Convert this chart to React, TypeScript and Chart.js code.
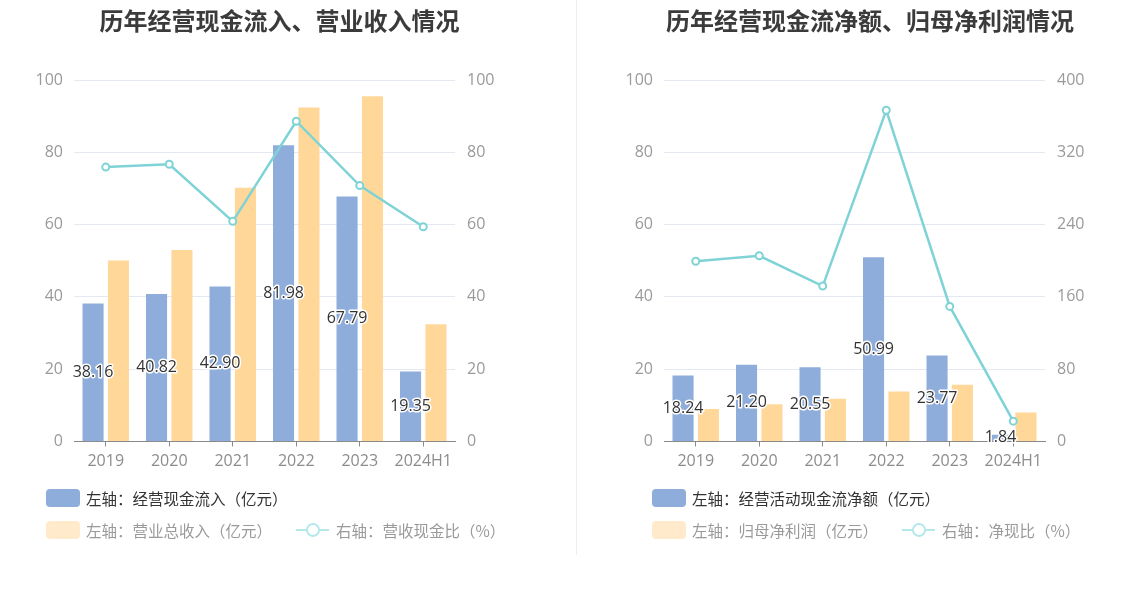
import React, { useEffect, useRef } from 'react';
import { Chart, registerables } from 'chart.js';

Chart.register(...registerables);

// ---- data ----
const years = ['2019', '2020', '2021', '2022', '2023', '2024H1'];
// left chart
const cashInflow = [38.16, 40.82, 42.9, 81.98, 67.79, 19.35];
const totalRevenue = [50.1, 53.0, 70.2, 92.4, 95.5, 32.4];
const cashRevenueRatio = [75.9, 76.7, 60.9, 88.6, 70.8, 59.4];
// right chart
const netOperatingCash = [18.24, 21.2, 20.55, 50.99, 23.77, 1.84];
const netProfit = [9.0, 10.3, 11.8, 13.8, 15.7, 8.0];
const netCashRatio = [199.5, 205.5, 172.0, 366.5, 149.5, 22.5];

const titles = ['历年经营现金流入、营业收入情况', '历年经营现金流净额、归母净利润情况'];
const legend1 = ['左轴：经营现金流入（亿元）', '左轴：营业总收入（亿元）', '右轴：营收现金比（%）'];
const legend2 = ['左轴：经营活动现金流净额（亿元）', '左轴：归母净利润（亿元）', '右轴：净现比（%）'];

const FONT = "'Open Sans', 'Noto Sans CJK SC', sans-serif";
const CJK = "'Noto Sans CJK SC', 'Open Sans', sans-serif";
const BLUE = '#8EADDB';
const YELLOW = '#FFD899';
const LINE = '#7FD3D6';
const GRID = '#E4E8F3';

const barLabelPlugin = {
  id: 'barLabels',
  afterDatasetsDraw(chart: any) {
    const meta = chart.getDatasetMeta(1);
    const data = chart.data.datasets[1].data as number[];
    const ctx = chart.ctx as CanvasRenderingContext2D;
    ctx.save();
    ctx.font = `16px ${FONT}`;
    ctx.textAlign = 'center';
    ctx.textBaseline = 'middle';
    ctx.lineWidth = 3;
    ctx.lineJoin = 'round';
    ctx.strokeStyle = '#fff';
    ctx.fillStyle = '#333';
    meta.data.forEach((el: any, i: number) => {
      const text = data[i].toFixed(2);
      const y = (el.y + el.base) / 2;
      ctx.strokeText(text, el.x, y);
      ctx.fillText(text, el.x, y);
    });
    ctx.restore();
  },
};

type PanelProps = {
  left: number;
  width: number;
  axisLeft: number;
  axisRight: number;
  bars1: number[];
  bars2: number[];
  line: number[];
  y1Max: number;
  y1Step: number;
};

function ChartPanel(p: PanelProps) {
  const ref = useRef<HTMLCanvasElement>(null);
  useEffect(() => {
    const tickFont = { family: FONT, size: 16 };
    const chart = new Chart(ref.current as HTMLCanvasElement, {
      type: 'bar',
      data: {
        labels: years,
        datasets: [
          {
            type: 'line',
            data: p.line,
            yAxisID: 'y1',
            order: 0,
            borderColor: LINE,
            borderWidth: 2.5,
            pointRadius: 3.5,
            pointBorderWidth: 2,
            pointBackgroundColor: '#fff',
            pointBorderColor: LINE,
            tension: 0,
            fill: false,
          } as any,
          {
            type: 'bar',
            data: p.bars1,
            yAxisID: 'y',
            order: 1,
            backgroundColor: BLUE,
            categoryPercentage: 0.8,
            barPercentage: 0.83,
          },
          {
            type: 'bar',
            data: p.bars2,
            yAxisID: 'y',
            order: 1,
            backgroundColor: YELLOW,
            categoryPercentage: 0.8,
            barPercentage: 0.83,
          },
        ],
      },
      options: {
        responsive: false,
        animation: false,
        layout: { padding: { top: 80, bottom: 107.5, left: 0, right: 0 } },
        plugins: { legend: { display: false }, tooltip: { enabled: false }, title: { display: false } },
        scales: {
          x: {
            grid: { offset: false, drawOnChartArea: false, drawTicks: true, tickLength: 5, color: '#8a8a8a' },
            border: { display: true, color: '#8a8a8a', width: 1 },
            ticks: { color: '#8c8c8c', font: tickFont, padding: 5, maxRotation: 0 },
            afterFit: (s: any) => {
              s.height = 40;
            },
          },
          y: {
            position: 'left',
            min: 0,
            max: 100,
            ticks: { stepSize: 20, color: '#9a9a9a', font: tickFont, padding: 11 },
            grid: { color: GRID, drawTicks: false, lineWidth: 1 },
            border: { display: false },
            afterFit: (s: any) => {
              s.width = p.axisLeft;
            },
          },
          y1: {
            position: 'right',
            min: 0,
            max: p.y1Max,
            ticks: { stepSize: p.y1Step, color: '#9a9a9a', font: tickFont, padding: 12 },
            grid: { drawOnChartArea: false, drawTicks: false },
            border: { display: false },
            afterFit: (s: any) => {
              s.width = p.axisRight;
            },
          },
        },
      } as any,
      plugins: [barLabelPlugin],
    });
    return () => chart.destroy();
  }, []);
  return (
    <canvas
      ref={ref}
      width={p.width}
      height={589}
      style={{ position: 'absolute', left: p.left, top: 0, width: p.width, height: 589 }}
    />
  );
}

function Legend({ x, items, lineX }: { x: number; items: string[]; lineX: number }) {
  const text = (s: string, left: number, cy: number, color: string) => (
    <span
      style={{
        position: 'absolute',
        left,
        top: cy - 10,
        lineHeight: '20px',
        fontSize: '15.5px',
        fontFamily: CJK,
        color,
        whiteSpace: 'nowrap',
      }}
    >
      {s}
    </span>
  );
  const box = (left: number, cy: number, color: string) => (
    <div
      style={{
        position: 'absolute',
        left,
        top: cy - 9,
        width: 34,
        height: 18,
        borderRadius: 4,
        background: color,
      }}
    />
  );
  return (
    <>
      {box(x, 497.5, BLUE)}
      {text(items[0], x + 40, 497.5, '#333')}
      {box(x, 530, '#FFEBCC')}
      {text(items[1], x + 40, 530, '#9a9a9a')}
      <div style={{ position: 'absolute', left: lineX, top: 529, width: 33, height: 2, background: '#B5E8EA' }} />
      <div
        style={{
          position: 'absolute',
          left: lineX + 16.5 - 7,
          top: 530 - 7,
          width: 10,
          height: 10,
          borderRadius: '50%',
          border: '2px solid #B5E8EA',
          background: '#fff',
        }}
      />
      {text(items[2], lineX + 40, 530, '#9a9a9a')}
    </>
  );
}

export default function App() {
  const titleStyle = (cx: number): React.CSSProperties => ({
    position: 'absolute',
    left: cx - 260,
    width: 520,
    top: 7.5,
    lineHeight: '24px',
    textAlign: 'center',
    fontSize: '24px',
    fontWeight: 'bold',
    fontFamily: CJK,
    color: '#3b3b3b',
    whiteSpace: 'nowrap',
  });
  return (
    <div style={{ position: 'absolute', left: 0, top: 0, width: 1147, height: 589, background: '#fff', overflow: 'hidden' }}>
      <ChartPanel
        left={0}
        width={577}
        axisLeft={74}
        axisRight={122}
        bars1={cashInflow}
        bars2={totalRevenue}
        line={cashRevenueRatio}
        y1Max={100}
        y1Step={20}
      />
      <ChartPanel
        left={577}
        width={570}
        axisLeft={87}
        axisRight={102}
        bars1={netOperatingCash}
        bars2={netProfit}
        line={netCashRatio}
        y1Max={400}
        y1Step={80}
      />
      <div style={{ position: 'absolute', left: 576, top: 0, width: 1, height: 555, background: '#EEEEEE' }} />
      <div style={titleStyle(279.5)}>{titles[0]}</div>
      <div style={titleStyle(870)}>{titles[1]}</div>
      <Legend x={46} items={legend1} lineX={296} />
      <Legend x={652} items={legend2} lineX={902} />
    </div>
  );
}
